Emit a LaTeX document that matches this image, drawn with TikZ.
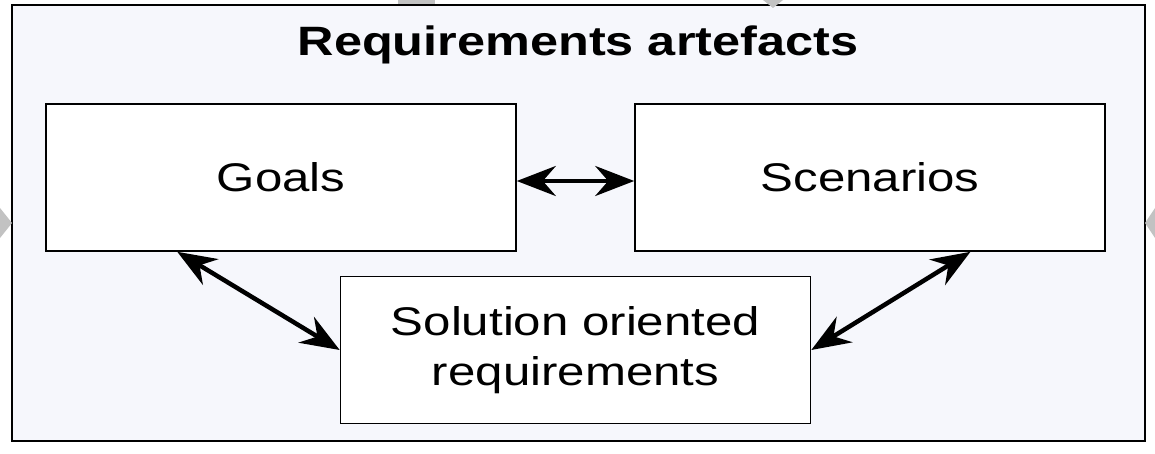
\documentclass[tikz,border=0pt]{standalone}
\usepackage{fontspec}
\setmainfont{Liberation Sans}[FakeStretch=1.23]
\usetikzlibrary{arrows.meta,calc}

\definecolor{framebg}{HTML}{F6F7FC}
\definecolor{marker}{HTML}{C2C2C2}

\tikzset{
  artefact/.style={draw=black, line width=1.6pt, fill=white,
    minimum width=470pt, minimum height=147pt, inner sep=0pt,
    font=\fontsize{40}{50}\selectfont, align=center},
  link/.style={line width=4.5pt, {Stealth[length=39pt,width=30pt,inset=13pt]}-{Stealth[length=39pt,width=30pt,inset=13pt]}}
}

\begin{document}
\begin{tikzpicture}[x=1pt,y=-1pt]
  \useasboundingbox (0,0) rectangle (1155,454);
  % frame
  \draw[line width=1.8pt, fill=framebg] (12,5) rectangle (1145,441);
  \node (title) at (578,45) {\fontsize{41}{50}\selectfont\bfseries Requirements artefacts};
  % grey markers on the frame
  \fill[marker] (398,0) rectangle (435,4);
  \fill[marker] (763,0) -- (783,0) -- (773,8) -- cycle;
  \fill[marker] (0,208) -- (12,223) -- (0,238) -- cycle;
  \fill[marker] (1155,208) -- (1145,223) -- (1155,238) -- cycle;
  % boxes
  \node[artefact] (goals) at (281,177.5) {Goals};
  \node[artefact] (scen) at (870,177.5) {Scenarios};
  \node[artefact] (sol) at (575.5,350) {Solution oriented\\requirements};
  % links
  \draw[link] (goals.east |- 0,181) -- (scen.west |- 0,181);
  \draw[link] ($(goals.south west)!0.28!(goals.south east)$) -- (sol.west);
  \draw[link] ($(scen.south west)!0.713!(scen.south east)$) -- (sol.east);
\end{tikzpicture}
\end{document}
